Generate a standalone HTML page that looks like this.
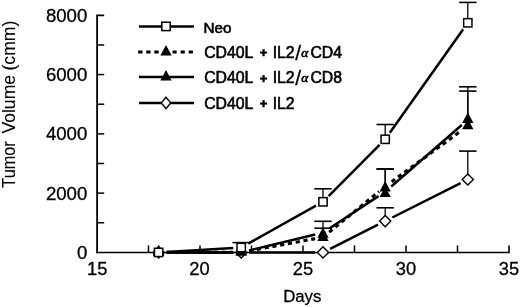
<!DOCTYPE html>
<html><head><meta charset="utf-8"><title>Tumor Volume vs Days</title>
<style>html,body{margin:0;padding:0;background:#fff;overflow:hidden;}svg{display:block;}</style>
</head><body>
<svg width="520" height="307" viewBox="0 0 520 307">
<g stroke="#000" fill="none">
<path d="M104.2 15.3H97.1V253.2" stroke-width="1.8"/>
<path d="M96.2 252.5H509V245.4" stroke-width="1.6"/>
<line x1="97" y1="222.76" x2="104.2" y2="222.76" stroke-width="1.5"/>
<line x1="97" y1="193.12" x2="104.2" y2="193.12" stroke-width="1.5"/>
<line x1="97" y1="163.49" x2="104.2" y2="163.49" stroke-width="1.5"/>
<line x1="97" y1="133.85" x2="104.2" y2="133.85" stroke-width="1.5"/>
<line x1="97" y1="104.21" x2="104.2" y2="104.21" stroke-width="1.5"/>
<line x1="97" y1="74.57" x2="104.2" y2="74.57" stroke-width="1.5"/>
<line x1="97" y1="44.94" x2="104.2" y2="44.94" stroke-width="1.5"/>
<line x1="148.5" y1="252.4" x2="148.5" y2="245.4" stroke-width="1.5"/>
<line x1="200" y1="252.4" x2="200" y2="245.4" stroke-width="1.5"/>
<line x1="251.5" y1="252.4" x2="251.5" y2="245.4" stroke-width="1.5"/>
<line x1="303" y1="252.4" x2="303" y2="245.4" stroke-width="1.5"/>
<line x1="354.5" y1="252.4" x2="354.5" y2="245.4" stroke-width="1.5"/>
<line x1="406" y1="252.4" x2="406" y2="245.4" stroke-width="1.5"/>
<line x1="457.5" y1="252.4" x2="457.5" y2="245.4" stroke-width="1.5"/>
</g>
<g font-family="Liberation Sans, Arial, Helvetica, sans-serif" font-size="18.6" fill="#000" stroke="#000" stroke-width="0.3">
<text x="87.3" y="258.9" text-anchor="end">0</text>
<text x="87.3" y="199.62" text-anchor="end">2000</text>
<text x="87.3" y="140.35" text-anchor="end">4000</text>
<text x="87.3" y="81.07" text-anchor="end">6000</text>
<text x="87.3" y="21.8" text-anchor="end">8000</text>
<text x="97.2" y="274.8" text-anchor="middle" font-size="18.3">15</text>
<text x="199.4" y="274.8" text-anchor="middle" font-size="18.3">20</text>
<text x="303" y="274.8" text-anchor="middle" font-size="18.3">25</text>
<text x="406" y="274.8" text-anchor="middle" font-size="18.3">30</text>
<text x="509" y="274.8" text-anchor="middle" font-size="18.3">35</text>
</g>
<text x="302.3" y="301.7" text-anchor="middle" font-family="Liberation Sans, Arial, Helvetica, sans-serif" font-size="16.8" stroke="#000" stroke-width="0.3">Days</text>
<text transform="translate(14.5 0) rotate(-90)" font-family="Liberation Sans, Arial, Helvetica, sans-serif" font-size="17.6" stroke="#000" stroke-width="0.1"><tspan x="-187.7" textLength="46.4" lengthAdjust="spacingAndGlyphs">Tumor</tspan> <tspan x="-133.6">Volume</tspan> <tspan x="-70.5">(cmm)</tspan></text>
<g stroke="#000" stroke-width="2.5">
<line x1="139" y1="26.4" x2="194" y2="26.4"/>
<line x1="138.1" y1="52.1" x2="161" y2="52.1" stroke-dasharray="4.4 3.7" stroke-width="3"/>
<line x1="172.5" y1="52.1" x2="194" y2="52.1" stroke-dasharray="4.2 3.9" stroke-width="3"/>
<line x1="139" y1="77.1" x2="194" y2="77.1"/>
<line x1="139" y1="102.9" x2="194" y2="102.9"/>
</g>
<rect x="161.8" y="22.2" width="8.4" height="8.4" fill="#fff" stroke="#000" stroke-width="1.5"/>
<path d="M166 44.9L171.65 55.4L160.35 55.4Z" fill="#000"/>
<path d="M166 69.9L171.65 80.4L160.35 80.4Z" fill="#000"/>
<path d="M166 97.2L170.7 102.9L166 108.6L161.3 102.9Z" fill="#fff" stroke="#000" stroke-width="1.4"/>
<g font-family="Liberation Sans, Arial, Helvetica, sans-serif" font-size="15.8" fill="#000" stroke="#000" stroke-width="0.6">
<text x="203.4" y="32.7" font-size="15.3">Neo</text>
<text x="204.2" y="58">CD40L <tspan x="259.8" font-size="13" font-weight="bold" dy="-0.8">+</tspan><tspan dy="0.8"> </tspan><tspan x="272.7">IL2</tspan><tspan x="295.3" dy="1.9" font-size="21" stroke-width="0.3">/</tspan><tspan x="301.3" dy="-3.3" font-size="13.5" font-family="Liberation Serif, serif" font-style="italic">α</tspan><tspan x="310.4" dy="1.4">CD4</tspan></text>
<text x="204.2" y="83.3">CD40L <tspan x="259.8" font-size="13" font-weight="bold" dy="-0.8">+</tspan><tspan dy="0.8"> </tspan><tspan x="272.7">IL2</tspan><tspan x="295.3" dy="1.9" font-size="21" stroke-width="0.3">/</tspan><tspan x="301.3" dy="-3.3" font-size="13.5" font-family="Liberation Serif, serif" font-style="italic">α</tspan><tspan x="310.4" dy="1.4">CD8</tspan></text>
<text x="204.2" y="109.1">CD40L <tspan x="259.8" font-size="13" font-weight="bold" dy="-0.8">+</tspan><tspan dy="0.8"> </tspan><tspan x="272.7">IL2</tspan></text>
</g>
<g stroke="#000"><line x1="385.2" y1="221.1" x2="385.2" y2="207.8" stroke-width="1.3"/><line x1="376.5" y1="207.8" x2="393.9" y2="207.8" stroke-width="1.6"/><line x1="467.8" y1="179.5" x2="467.8" y2="151.1" stroke-width="1.3"/><line x1="459.1" y1="151.1" x2="476.5" y2="151.1" stroke-width="1.6"/></g>
<g stroke="#000"><line x1="323" y1="230.2" x2="323" y2="221.3" stroke-width="1.3"/><line x1="314.3" y1="221.3" x2="331.7" y2="221.3" stroke-width="1.6"/><line x1="385.2" y1="189.5" x2="385.2" y2="169" stroke-width="1.3"/><line x1="376.5" y1="169" x2="393.9" y2="169" stroke-width="1.6"/><line x1="467.8" y1="115.6" x2="467.8" y2="86.8" stroke-width="1.3"/><line x1="459.1" y1="86.8" x2="476.5" y2="86.8" stroke-width="1.6"/></g>
<g stroke="#000"><line x1="323" y1="233.6" x2="323" y2="228.2" stroke-width="1.3"/><line x1="314.3" y1="228.2" x2="331.7" y2="228.2" stroke-width="1.6"/><line x1="385.2" y1="184" x2="385.2" y2="169" stroke-width="1.3"/><line x1="376.5" y1="169" x2="393.9" y2="169" stroke-width="1.6"/><line x1="467.8" y1="121.7" x2="467.8" y2="91.1" stroke-width="1.3"/><line x1="459.1" y1="91.1" x2="476.5" y2="91.1" stroke-width="1.6"/></g>
<g stroke="#000"><line x1="241.2" y1="247.5" x2="241.2" y2="242.6" stroke-width="1.3"/><line x1="232.5" y1="242.6" x2="249.9" y2="242.6" stroke-width="1.6"/><line x1="323" y1="201.8" x2="323" y2="188.8" stroke-width="1.3"/><line x1="314.3" y1="188.8" x2="331.7" y2="188.8" stroke-width="1.6"/><line x1="385.2" y1="139.3" x2="385.2" y2="124.5" stroke-width="1.3"/><line x1="376.5" y1="124.5" x2="393.9" y2="124.5" stroke-width="1.6"/><line x1="467.8" y1="22.8" x2="467.8" y2="2.4" stroke-width="1.3"/><line x1="459.1" y1="2.4" x2="476.5" y2="2.4" stroke-width="1.6"/></g>
<g stroke="#000" stroke-width="2.5"><line x1="166.6" y1="252.4" x2="233.2" y2="252.4"/><line x1="249.2" y1="252.4" x2="315" y2="252.4"/><line x1="330.15" y1="248.8" x2="378.05" y2="224.7"/><line x1="392.35" y1="217.5" x2="460.65" y2="183.1"/></g>
<g stroke="#000" stroke-width="2.5"><line x1="166.6" y1="252.4" x2="233.2" y2="252.4"/><line x1="248.98" y1="250.52" x2="315.22" y2="234.48"/><line x1="329.69" y1="228.21" x2="378.51" y2="196.14"/><line x1="391.23" y1="186.49" x2="461.77" y2="125.01"/></g>
<g stroke="#000" stroke-width="3.1" stroke-dasharray="4.2 3.7"><line x1="166.6" y1="252.4" x2="233.2" y2="252.4"/><line x1="249.07" y1="250.94" x2="315.13" y2="238.66"/><line x1="329.2" y1="232.15" x2="379" y2="191.55"/><line x1="391.65" y1="181.77" x2="461.35" y2="130.73"/></g>
<g stroke="#000" stroke-width="2.5"><line x1="166.59" y1="251.93" x2="233.21" y2="247.97"/><line x1="248.18" y1="243.6" x2="316.02" y2="205.7"/><line x1="328.64" y1="196.13" x2="379.56" y2="144.97"/><line x1="389.83" y1="132.77" x2="463.17" y2="29.33"/></g>
<path d="M158.6 246.8L164.2 252.4L158.6 258L153 252.4Z" fill="#fff" stroke="#000" stroke-width="1.4"/>
<path d="M241.2 246.8L246.8 252.4L241.2 258L235.6 252.4Z" fill="#fff" stroke="#000" stroke-width="1.4"/>
<path d="M323 246.8L328.6 252.4L323 258L317.4 252.4Z" fill="#fff" stroke="#000" stroke-width="1.4"/>
<path d="M385.2 215.5L390.8 221.1L385.2 226.7L379.6 221.1Z" fill="#fff" stroke="#000" stroke-width="1.4"/>
<path d="M467.8 173.9L473.4 179.5L467.8 185.1L462.2 179.5Z" fill="#fff" stroke="#000" stroke-width="1.4"/>
<path d="M158.6 245L164.25 255.5L152.95 255.5Z" fill="#000"/>
<path d="M241.2 245L246.85 255.5L235.55 255.5Z" fill="#000"/>
<path d="M323 227.2L328.65 237.7L317.35 237.7Z" fill="#000"/>
<path d="M385.2 186.5L390.85 197L379.55 197Z" fill="#000"/>
<path d="M467.8 112.6L473.45 123.1L462.15 123.1Z" fill="#000"/>
<path d="M158.6 245L164.25 255.5L152.95 255.5Z" fill="#000"/>
<path d="M241.2 245L246.85 255.5L235.55 255.5Z" fill="#000"/>
<path d="M323 230.6L328.65 241.1L317.35 241.1Z" fill="#000"/>
<path d="M385.2 181L390.85 191.5L379.55 191.5Z" fill="#000"/>
<path d="M467.8 118.7L473.45 129.2L462.15 129.2Z" fill="#000"/>
<rect x="154.45" y="248.25" width="8.3" height="8.3" fill="#fff" stroke="#000" stroke-width="1.5"/>
<rect x="237.05" y="243.35" width="8.3" height="8.3" fill="#fff" stroke="#000" stroke-width="1.5"/>
<rect x="318.85" y="197.65" width="8.3" height="8.3" fill="#fff" stroke="#000" stroke-width="1.5"/>
<rect x="381.05" y="135.15" width="8.3" height="8.3" fill="#fff" stroke="#000" stroke-width="1.5"/>
<rect x="463.65" y="18.65" width="8.3" height="8.3" fill="#fff" stroke="#000" stroke-width="1.5"/>
</svg>
</body></html>
